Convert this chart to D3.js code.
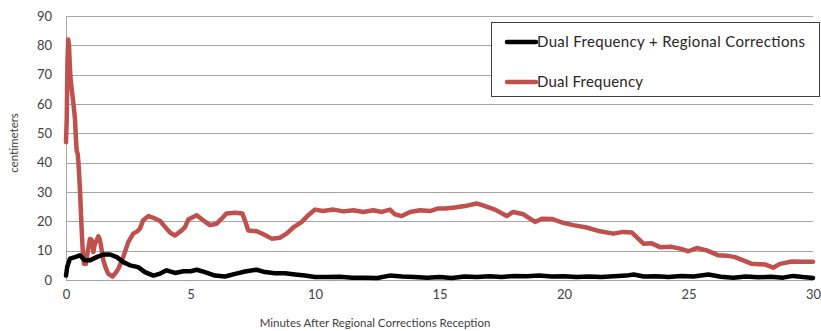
<!DOCTYPE html>
<html>
<head>
<meta charset="utf-8">
<script src="https://cdn.jsdelivr.net/npm/d3@7"></script>
<style>
  html, body { margin: 0; padding: 0; background: #fff; }
  svg { display: block; }
  text { font-family: Lato, "Open Sans", "Liberation Sans", sans-serif; }
</style>
</head>
<body>
<svg id="chart" width="821" height="331"></svg>
<script>
// Horizontal error (cm) over the first 30 minutes after corrections arrive
const yTicks = [0, 10, 20, 30, 40, 50, 60, 70, 80, 90];
const xTicks = [0, 5, 10, 15, 20, 25, 30];

const seriesNames = ["Dual Frequency + Regional Corrections", "Dual Frequency"];
const seriesColors = ["#000000", "#C0504D"];

// Dual Frequency (minutes, centimeters)
const dfMinutes = [0.00,0.03,0.06,0.09,0.12,0.16,0.19,0.23,0.30,0.36,0.40,0.43,0.47,0.50,0.56,0.63,0.68,0.72,0.80,0.86,0.90,0.96,1.03,1.10,1.15,1.20,1.30,1.35,1.39,1.50,1.60,1.70,1.87,2.00,2.10,2.30,2.50,2.70,2.85,2.97,3.10,3.31,3.51,3.78,4.04,4.20,4.38,4.65,4.78,4.91,5.11,5.25,5.51,5.78,6.05,6.25,6.45,6.79,7.08,7.20,7.32,7.66,7.93,8.26,8.59,8.86,9.13,9.47,9.73,10.00,10.33,10.74,11.14,11.54,11.94,12.34,12.68,13.01,13.21,13.48,13.82,14.22,14.62,14.95,15.22,15.62,16.02,16.49,16.83,17.23,17.70,17.96,18.37,18.84,19.11,19.51,19.97,20.37,20.91,21.45,21.98,22.38,22.72,23.19,23.52,23.86,24.32,24.66,24.99,25.33,25.73,26.20,26.53,26.87,27.20,27.54,28.07,28.40,28.67,29.15,29.61,30.00];
const dfCm = [47,55,75,82,80,72,68,65,60,55,48,44,43,40,31,17,9,5.5,5.5,9,11,14,13.7,9.5,12,12.9,14.9,14,12.4,6.7,4,2.1,1.2,2.5,3.8,7.8,12.9,15.8,16.5,17.5,20.4,21.8,21.2,20.1,17.5,16,15.2,16.9,18,20.6,21.5,22.1,20.4,18.7,19.2,20.9,22.7,22.9,22.7,20,16.9,16.6,15.6,14.1,14.4,15.8,17.9,19.8,22.1,24.0,23.5,24.0,23.4,23.8,23.2,23.8,23.2,24.0,22.4,21.8,23.2,23.8,23.5,24.4,24.4,24.7,25.2,26.1,25.2,24.0,21.8,23.2,22.4,19.8,20.9,20.8,19.5,18.7,17.9,16.6,15.8,16.4,16.2,12.4,12.5,11.2,11.3,10.7,9.8,10.9,10.1,8.4,8.3,7.8,6.7,5.5,5.3,4.2,5.5,6.3,6.2,6.2];

// Dual Frequency + Regional Corrections (minutes, centimeters)
const dfrcMinutes = [0.00,0.05,0.16,0.36,0.56,0.76,0.96,1.23,1.50,1.77,2.04,2.30,2.57,2.90,3.17,3.51,3.78,4.04,4.38,4.71,5.00,5.25,5.58,5.98,6.39,6.79,7.19,7.66,7.99,8.39,8.80,9.20,9.60,10.00,10.50,11.00,11.50,12.00,12.50,13.00,13.50,14.00,14.50,15.00,15.50,16.00,16.50,17.00,17.50,18.00,18.50,19.00,19.50,20.00,20.50,21.00,21.50,22.00,22.50,22.80,23.20,23.70,24.20,24.70,25.20,25.80,26.30,26.80,27.30,27.80,28.30,28.80,29.20,29.60,30.00];
const dfrcCm = [1.5,4.5,7.3,7.8,8.4,6.7,6.7,7.8,8.7,8.7,7.8,6.1,5.0,4.4,2.7,1.5,2.2,3.3,2.4,3.0,3.0,3.5,2.7,1.5,1.2,2.1,2.9,3.5,2.7,2.3,2.3,1.9,1.5,1.0,1.0,1.1,0.8,0.8,0.7,1.5,1.2,1.0,0.8,1.0,0.7,1.2,1.0,1.3,1.0,1.4,1.3,1.5,1.2,1.3,1.0,1.2,1.0,1.3,1.5,1.9,1.2,1.3,1.0,1.4,1.2,1.9,1.1,0.8,1.2,0.9,1.1,0.8,1.4,1.0,0.7];

const svg = d3.select("#chart");
const x = d3.scaleLinear().domain([0, 30]).range([66, 813]);
const y = d3.scaleLinear().domain([0, 90]).range([280, 16]);

// Horizontal gridlines
svg.append("g")
  .selectAll("line")
  .data(yTicks)
  .join("line")
  .attr("x1", x(0)).attr("x2", x(30))
  .attr("y1", d => Math.round(y(d)) + 0.5).attr("y2", d => Math.round(y(d)) + 0.5)
  .attr("stroke", "#A6A6A6").attr("stroke-width", 1);

// Vertical axis line
svg.append("line")
  .attr("x1", x(0) + 0.5).attr("x2", x(0) + 0.5)
  .attr("y1", y(90)).attr("y2", y(0) + 1)
  .attr("stroke", "#A6A6A6");

// Y tick labels
const yAxis = d3.axisLeft(y).tickValues(yTicks).tickSize(0).tickPadding(14);
const gy = svg.append("g").attr("transform", `translate(${x(0)},0)`).call(yAxis);
gy.select(".domain").remove();
gy.selectAll("text").attr("font-size", 13).attr("fill", "#404040")
  .style("font-family", "Lato, 'Open Sans', sans-serif");

// X tick labels
const xAxis = d3.axisBottom(x).tickValues(xTicks).tickSize(0).tickPadding(10);
const gx = svg.append("g").attr("transform", `translate(0,${y(0)})`).call(xAxis);
gx.select(".domain").remove();
gx.selectAll("text").attr("font-size", 13).attr("fill", "#404040")
  .style("font-family", "Lato, 'Open Sans', sans-serif");

// Axis titles
svg.append("text")
  .attr("x", 375).attr("y", 327)
  .attr("text-anchor", "middle")
  .attr("font-size", 11.5).attr("fill", "#404040")
  .text("Minutes After Regional Corrections Reception");

svg.append("text")
  .attr("transform", "translate(18,143) rotate(-90)")
  .attr("text-anchor", "middle")
  .attr("font-size", 11.5).attr("fill", "#404040")
  .text("centimeters");

// Series lines
const line = d3.line().x(d => x(d[0])).y(d => y(d[1]));
const series = [
  { name: seriesNames[1], color: seriesColors[1], pts: dfMinutes.map((t, i) => [t, dfCm[i]]), w: 4.5 },
  { name: seriesNames[0], color: seriesColors[0], pts: dfrcMinutes.map((t, i) => [t, dfrcCm[i]]), w: 4.5 }
];
svg.append("g")
  .selectAll("path")
  .data(series)
  .join("path")
  .attr("d", d => line(d.pts))
  .attr("fill", "none")
  .attr("stroke", d => d.color)
  .attr("stroke-width", d => d.w)
  .attr("stroke-linejoin", "round")
  .attr("stroke-linecap", "round");

// Legend
const legendTextWidth = [268, 106];
const lg = svg.append("g");
lg.append("rect")
  .attr("x", 491.5).attr("y", 22.5).attr("width", 328).attr("height", 74)
  .attr("fill", "#fff").attr("stroke", "#404040").attr("stroke-width", 1);
const items = lg.selectAll("g.item")
  .data([0, 1])
  .join("g")
  .attr("class", "item")
  .attr("transform", i => `translate(0,${i === 0 ? 42 : 82})`);
items.append("line")
  .attr("x1", 507).attr("x2", 536).attr("y1", 0).attr("y2", 0)
  .attr("stroke", i => seriesColors[i]).attr("stroke-width", 4.5)
  .attr("stroke-linecap", "round");
items.append("text")
  .attr("x", 537).attr("y", 0).attr("dy", "0.35em")
  .attr("font-size", 15).attr("fill", "#262626")
  .attr("textLength", i => legendTextWidth[i])
  .attr("lengthAdjust", "spacing")
  .text(i => seriesNames[i]);
</script>
</body>
</html>
